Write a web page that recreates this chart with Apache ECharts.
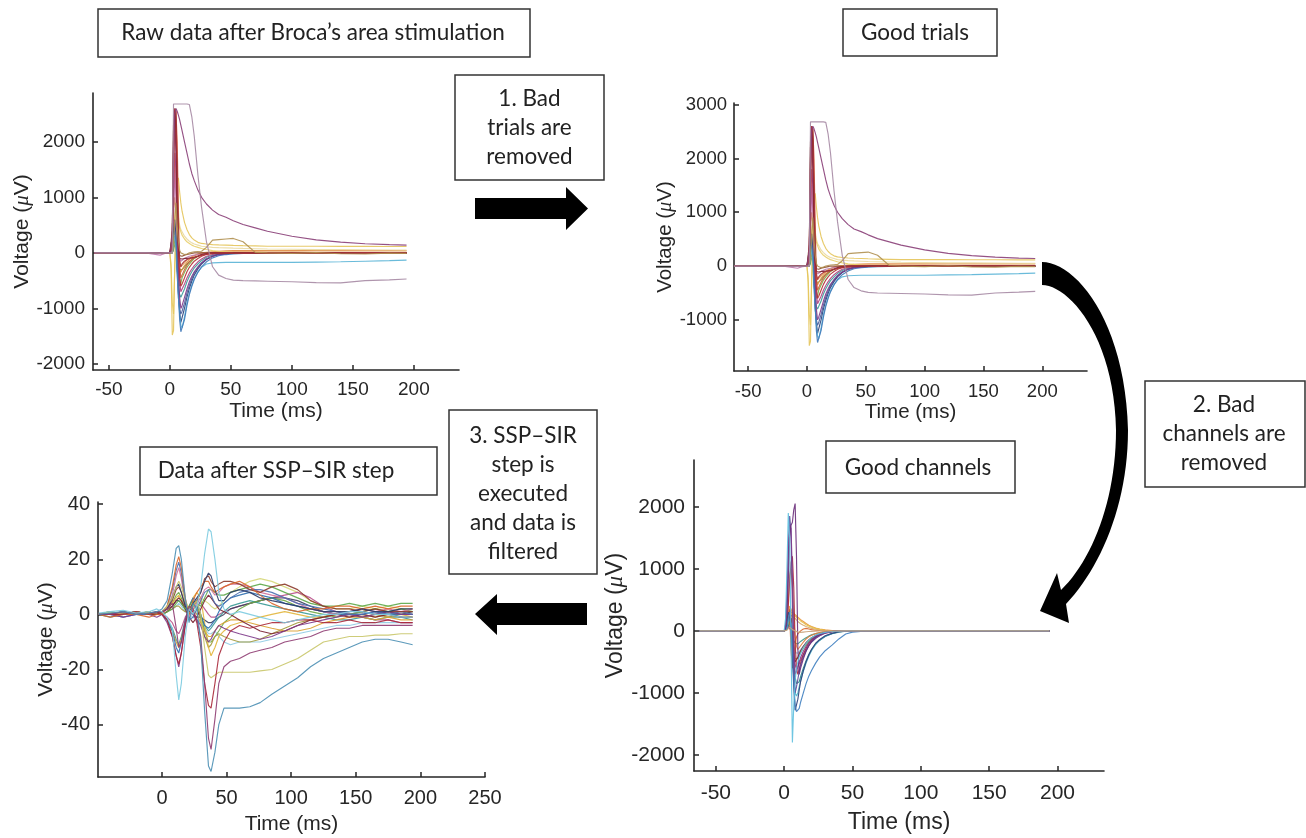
<!DOCTYPE html>
<html><head><meta charset="utf-8">
<script src="https://cdn.jsdelivr.net/npm/echarts@6/dist/echarts.min.js"></script>
<style>html,body{margin:0;padding:0;background:#fff}#c{width:1306px;height:838px}</style>
</head><body><div id="c"></div>
<script>
// ---------- time samples (ms) ----------
const timesRaw = [-62,-40,-20,-8,-4,0,1,2,3,4,5,6,7,8,9,10,12,14,16,18,20,23,26,30,35,40,46,52,60,70,80,100,120,140,160,180,194];
const timesSsp = [-49,-40,-30,-20,-10,-4,0,4,8,11,13,15,18,21,24,27,30,33,36,38,41,44,48,53,60,68,76,85,95,105,115,125,135,145,155,165,175,185,194];
const timesChan = [-62,-30,0,1,2,3,4,5,6,7,8,9,10,11,12,14,16,18,20,23,26,30,35,40,45,50,60,80,120,160,194];

// ---------- raw data (µV), also shown as "good trials" ----------
const raw_red = [0,0,0,0,0,0,50,400,2000,2600,2550,1500,300,-150,-250,-200,-150,-120,-100,-90,-80,-60,-40,-20,-5,0,5,0,-5,0,5,0,-5,0,5,0,0];
const raw_orangeRed = [0,0,0,0,0,0,0,100,1200,2300,2550,2000,800,-200,-450,-400,-300,-220,-160,-120,-90,-60,-40,-25,-10,-5,0,0,0,0,0,0,0,0,0,0,0];
const raw_blue = [0,0,0,0,0,0,0,50,300,400,200,-200,-700,-1200,-1420,-1450,-1200,-950,-750,-600,-480,-350,-250,-160,-90,-50,-30,-20,-10,-5,0,0,0,0,0,0,0];
const raw_cyan = [0,0,0,0,0,0,0,0,200,300,100,-300,-800,-1100,-1300,-1350,-1150,-900,-720,-580,-460,-340,-260,-200,-180,-175,-170,-170,-170,-170,-170,-170,-165,-160,-150,-140,-130];
const raw_green = [0,0,0,0,0,0,0,0,100,250,150,-100,-400,-600,-550,-450,-350,-260,-200,-150,-100,-60,-30,-10,0,0,0,0,0,0,0,0,0,0,0,0,0];
const raw_purple = [0,0,0,0,0,0,0,200,1800,2400,1800,600,-300,-800,-1000,-950,-800,-650,-520,-420,-340,-250,-180,-110,-60,-30,-15,-5,0,0,0,0,0,0,0,0,0];
const raw_darkRed = [0,0,0,0,0,0,0,300,2200,2550,2300,900,100,-100,-120,-110,-100,-100,-95,-90,-80,-60,-30,-10,0,0,0,0,0,0,0,0,0,0,0,0,0];
const raw_teal = [0,0,0,0,0,0,0,0,100,300,0,-300,-600,-750,-800,-780,-650,-520,-420,-340,-270,-200,-140,-80,-40,-20,-10,0,0,0,0,0,0,0,0,0,0];
const raw_orange = [0,0,0,0,0,0,0,100,800,1000,700,200,-100,-300,-350,-300,-230,-170,-120,-80,-50,-20,0,10,20,30,35,40,40,40,40,40,40,40,40,40,40];
const raw_blue2 = [0,0,0,0,0,0,0,100,600,400,0,-400,-800,-1000,-1100,-1050,-900,-720,-580,-460,-360,-260,-180,-110,-60,-30,-15,-5,0,0,0,0,0,0,0,0,0];
const raw_brown = [0,0,0,0,0,0,0,400,2300,2600,2400,1200,200,-50,-80,-60,-40,-30,-20,-10,0,0,0,0,0,0,0,0,0,0,0,0,0,0,0,0,0];
const raw_green2 = [0,0,0,0,0,0,0,0,50,150,100,-50,-200,-300,-320,-300,-250,-200,-160,-120,-90,-60,-35,-15,-5,0,0,0,0,0,0,0,0,0,0,0,0];
const raw_pink = [0,0,0,-40,-10,0,0,0,500,1500,1000,300,0,-100,-150,-130,-100,-80,-60,-50,-40,-30,-20,-10,0,0,0,0,0,0,0,0,0,0,0,0,0];
const raw_paleYellow = [0,0,0,0,0,0,0,50,300,700,850,800,650,500,420,380,300,250,210,180,160,140,120,110,100,95,90,85,80,75,70,65,60,58,55,52,50];
const raw_yellow = [0,0,0,0,0,0,-300,-1480,-1400,-200,600,1300,1350,1100,900,750,550,420,330,270,230,190,170,160,150,145,140,135,130,125,120,120,120,118,118,115,115];
const raw_yellow2 = [0,0,0,0,0,0,-200,-900,-1100,-300,300,600,550,450,380,320,250,200,170,140,120,100,80,60,40,30,20,10,0,0,0,0,0,0,0,0,0];
const raw_olive = [0,0,0,0,0,0,0,0,200,600,900,500,200,50,0,-20,-30,-20,0,10,20,25,30,100,230,240,250,260,200,10,0,-10,5,-15,-20,-5,-10];
const raw_red2 = [0,0,0,0,0,0,0,200,1900,2500,2200,1000,0,-400,-600,-560,-450,-340,-260,-200,-150,-100,-60,-30,-10,0,0,0,0,0,0,0,0,0,0,0,0];
const raw_navy = [0,0,0,0,0,0,0,80,400,600,300,-200,-700,-1050,-1250,-1220,-1000,-800,-640,-510,-400,-290,-200,-120,-60,-30,-15,-5,0,0,0,0,0,0,0,0,0];
const raw_orange2 = [0,0,0,0,0,0,0,150,1400,1800,1300,500,50,-150,-250,-230,-180,-130,-100,-70,-50,-30,-15,-5,0,10,15,20,20,20,15,15,10,10,10,10,10];
const raw_magenta = [0,0,0,0,0,0,0,100,900,1800,1500,400,-200,-500,-700,-680,-560,-450,-360,-290,-230,-160,-110,-60,-30,-10,0,0,0,0,0,0,0,0,0,0,0];
const raw_decay = [0,0,0,0,0,0,0,300,1500,2500,2600,2550,2480,2400,2300,2200,2000,1800,1600,1430,1300,1130,1000,880,770,690,640,580,510,450,390,300,235,195,165,148,140];
const raw_plateau = [0,0,0,-5,0,0,0,0,2680,2680,2680,2680,2680,2680,2680,2680,2680,2680,2670,2450,2100,1400,820,200,-250,-400,-460,-490,-500,-505,-510,-520,-535,-540,-500,-485,-470];

const rawTraces = [
  [raw_green2,'#5e9a40'],[raw_teal,'#3a9a9a'],[raw_green,'#7aa848'],[raw_blue2,'#4a5fa0'],
  [raw_orange,'#e08a40'],[raw_orange2,'#e39a50'],[raw_pink,'#c07aae'],[raw_paleYellow,'#ead9a0'],
  [raw_yellow2,'#e8cf6a'],[raw_yellow,'#e4c45a'],[raw_magenta,'#b0407e'],[raw_navy,'#2b3f7a'],
  [raw_cyan,'#5ab4d6'],[raw_blue,'#3f78b8'],[raw_purple,'#7e3a8a'],[raw_orangeRed,'#d0603a'],
  [raw_red2,'#b03030'],[raw_brown,'#8c4a2f'],[raw_darkRed,'#7a1e2a'],[raw_red,'#a8323e'],
  [raw_olive,'#b09050'],[raw_decay,'#8a3f78'],[raw_plateau,'#a689a4']
];
const goodTrialTraces = rawTraces;

// ---------- after SSP-SIR (µV) ----------
const ssp_1 = [0.5,1,1.5,0.5,1,2,1,-1,-5,-22,-31,-25,-8,2,0,3,10,22,31,30,20,8,2,0,1,0,-1,-2,-3,-2,-1,0,0,1,1,0,0,-1,-1];
const ssp_2 = [0,0.5,1,0,0.5,1,2,5,15,24,25,20,6,-3,4,2,-10,-35,-55,-57,-50,-40,-34,-34,-34,-33.5,-32,-29,-26,-23,-19,-16,-14,-12,-10,-9,-9,-10,-11];
const ssp_3 = [0,0,1,0,0.5,1,1,2,4,-5,-12,-10,-2,3,2,-2,-8,-25,-45,-49,-38,-25,-19,-17,-16,-14,-13,-12,-10,-9,-8,-6,-5,-5,-4,-4,-4,-4,-4];
const ssp_4 = [0,1,0,1,0,1,1,3,6,10,12,10,5,2,3,5,0,-12,-22,-23,-22,-21,-21,-21,-21,-21,-20.5,-20,-18,-16,-13,-10,-9,-8,-8,-7.5,-7.5,-7,-7];
const ssp_5 = [0,0,0,1,0,1,0,-2,-8,-15,-18,-14,-4,2,1,-3,-12,-25,-33,-34,-25,-15,-10,-6,-4,-5,-4,-3,-3,-2,-2,-3,-3,-2,-3,-3,-2,-3,-3];
const ssp_6 = [0,0,0,1,0,1,1,2,6,10,11,8,3,1,4,6,8,12,15,14,9,5,5,8,9,8,6,5,4,3,2,1,1,1,2,1,1,2,2];
const ssp_7 = [0,-1,0,0,-1,0,0,3,10,18,21,17,6,0,5,8,10,12,12,10,8,9,10,11,12,10,7,4,2,1,2,2,3,3,2,3,2,3,3];
const ssp_8 = [0,0,-1,0,0,-1,0,-3,-8,-15,-19,-14,-4,2,0,-2,-4,-8,-10,-9,-6,-4,-5,-6,-7,-8,-9,-8,-6,-4,-3,-2,-1,0,-1,0,1,0,0];
const ssp_9 = [0,1,0,0,1,0,1,2,4,7,8,6,2,0,2,3,0,-6,-10,-10,-8,-6,-3,-1,2,4,5,6,5,3,1,0,-1,0,1,2,1,2,1];
const ssp_10 = [0,0,1,0,0,1,0,1,3,5,6,5,2,1,3,5,6,5,4,3,2,3,5,8,10,12,13,12,10,8,5,3,2,2,3,2,3,2,2];
const ssp_11 = [0,0,-1,0,0,1,0,-2,-6,-12,-14,-10,-3,3,6,5,0,-4,-5,-4,-2,1,4,6,7,8,7,6,4,3,2,1,0,0,0,1,0,0,0];
const ssp_12 = [0,0,0,1,0,0,1,2,5,9,10,8,3,1,3,5,8,13,14,12,10,11,12,12,11,9,8,10,11,9,5,3,2,2,1,2,1,1,1];
const ssp_13 = [0,-1,0,0,0,0,0,-2,-5,-9,-11,-8,-2,2,4,2,-1,-4,-6,-5,-3,-1,1,3,4,5,4,3,2,1,0,-1,-2,-2,-1,-2,-1,-1,-2];
const ssp_14 = [0,0,1,0,1,0,1,2,4,6,7,5,2,3,6,8,6,-3,-12,-15,-12,-8,-6,-4,-3,-2,-1,0,1,0,-1,-1,0,0,0,-1,0,0,-1];
const ssp_15 = [0,0,0,0,0,0,0,-1,-3,-6,-7,-5,-1,1,3,5,4,2,0,-1,-1,0,1,2,3,4,5,6,7,8,6,3,1,0,-1,-2,-2,-3,-3];
const ssp_16 = [0,0,0,0,0,1,0,1,2,3,4,3,1,0,-1,-2,-3,-5,-7,-7,-6,-8,-10,-11,-10,-10,-10,-9,-8,-7,-6,-5,-4,-4,-3,-3,-3,-3,-3];
const ssp_17 = [0,0,1,0,1,0,1,2,3,5,5,4,2,1,0,-1,-1,-2,-3,-3,-2,-1,0,2,3,4,5,6,6,5,3,1,0,0,1,0,1,0,1];
const ssp_18 = [0,0,0,0,0,0,0,1,3,5,6,5,2,-1,-3,-1,2,5,7,6,4,2,1,0,-2,-4,-6,-7,-6,-4,-2,-1,0,-1,0,-1,0,-1,-1];
const ssp_19 = [0,0,0,0,0,0,0,2,7,14,17,13,4,-1,2,4,6,9,10,9,7,8,10,11,11,10,8,7,6,4,2,1,0,1,2,1,2,1,2];
const ssp_20 = [0,1,0,0,0,1,0,1,2,3,3,2,1,2,4,3,-2,-8,-12,-11,-8,-7,-8,-9,-10,-10,-9,-7,-5,-3,-2,-1,0,0,-1,0,-1,0,0];
const ssp_21 = [0,0,1,0,0,0,1,3,9,16,19,15,5,-2,-1,2,5,8,9,7,4,3,4,6,8,9,9,8,6,4,3,2,1,0,0,1,0,1,0];
const ssp_22 = [0,0,0,0,1,0,0,-2,-6,-10,-12,-9,-3,1,2,0,-3,-6,-8,-8,-6,-4,-3,-2,-2,-3,-4,-5,-6,-6,-5,-3,-2,-1,-1,-2,-1,-2,-2];
const ssp_23 = [0,0,0,1,0,0,0,1,2,4,5,4,2,3,5,4,3,6,9,9,8,7,7,8,9,10,11,10,8,6,4,3,3,4,3,4,3,4,4];

const sspTraces = [
  [ssp_16,'#8fcbe3'],[ssp_10,'#d6d77a'],[ssp_15,'#b8508a'],[ssp_17,'#3b3f5e'],[ssp_13,'#3a9a96'],
  [ssp_9,'#6ea843'],[ssp_20,'#a39a3c'],[ssp_22,'#d9a030'],[ssp_14,'#e2b63c'],[ssp_18,'#7a2030'],[ssp_11,'#2f6fb0'],
  [ssp_23,'#5ea84a'],[ssp_8,'#7e3a8a'],[ssp_19,'#d0709a'],[ssp_21,'#4a6fb0'],[ssp_12,'#8c3a2b'],[ssp_7,'#d9662a'],[ssp_6,'#2b3a67'],
  [ssp_4,'#c9c76a'],[ssp_5,'#a8283a'],[ssp_3,'#8e3c72'],[ssp_2,'#4b8fb4'],[ssp_1,'#7ccbe0']
];

// ---------- good channels (µV) ----------
const ch_1 = [0,0,0,200,1000,1900,1500,-200,-1800,-1200,-800,-600,-500,-420,-360,-270,-200,-150,-110,-70,-45,-25,-10,-5,0,0,0,0,0,0,0];
const ch_2 = [0,0,0,50,300,800,1500,1700,1750,1950,2050,1200,-300,-700,-600,-450,-330,-240,-170,-100,-60,-30,-10,0,0,0,0,0,0,0,0];
const ch_3 = [0,0,0,0,50,200,300,100,-300,-800,-1200,-1300,-1330,-1250,-1150,-1000,-850,-730,-640,-520,-420,-320,-230,-130,-50,-20,0,0,0,0,0];
const ch_4 = [0,0,0,0,100,300,250,0,-400,-900,-1280,-1250,-1100,-950,-820,-640,-500,-390,-300,-200,-140,-80,-40,-15,-5,0,0,0,0,0,0];
const ch_5 = [0,0,0,0,100,400,800,1100,1200,700,-200,-600,-700,-620,-520,-380,-280,-200,-150,-90,-55,-25,-10,0,0,0,0,0,0,0,0];
const ch_6 = [0,0,0,0,50,150,250,-300,-600,-400,-200,-100,-50,-20,0,30,40,30,20,10,5,0,0,0,0,0,0,0,0,0,0];
const ch_7 = [0,0,0,20,80,200,300,280,260,250,240,220,200,180,160,130,100,80,60,40,25,10,5,0,0,0,0,0,0,0,0];
const ch_8 = [0,0,0,0,30,100,150,100,-100,-300,-450,-480,-450,-400,-350,-280,-220,-170,-130,-90,-60,-30,-10,-5,0,0,0,0,0,0,0];
const ch_9 = [0,0,0,0,40,120,150,80,-50,-150,-200,-220,-210,-190,-170,-140,-110,-85,-65,-45,-30,-15,-5,0,0,0,0,0,0,0,0];
const ch_10 = [0,0,0,0,20,60,80,50,-100,-250,-350,-380,-360,-330,-300,-250,-200,-160,-120,-80,-50,-25,-10,-3,0,0,0,0,0,0,0];
const ch_11 = [0,0,0,100,600,1400,1700,1650,900,-200,-700,-650,-580,-500,-430,-330,-250,-190,-140,-90,-55,-25,-8,0,0,0,0,0,0,0,0];
const ch_12 = [0,0,0,10,60,150,200,220,230,230,200,170,150,130,115,90,70,55,40,25,15,5,0,0,0,0,0,0,0,0,0];
const ch_13 = [0,0,0,0,30,80,100,0,-200,-400,-550,-600,-580,-530,-470,-380,-300,-230,-180,-120,-80,-40,-15,-5,0,0,0,0,0,0,0];
const ch_14 = [0,0,0,0,10,30,60,40,20,10,0,-10,-20,-25,-25,-20,-15,-10,-8,-5,-3,-1,0,0,0,0,0,0,0,0,0];
const ch_15 = [0,0,0,0,30,100,120,50,-200,-500,-750,-850,-880,-820,-740,-600,-480,-380,-300,-210,-150,-90,-45,-20,-5,0,0,0,0,0,0];
const ch_16 = [0,0,0,0,80,250,400,350,300,280,260,240,220,200,180,150,120,90,70,45,30,15,5,0,0,0,0,0,0,0,0];
const ch_17 = [0,0,0,50,400,1200,1850,1600,400,-600,-1000,-900,-780,-650,-550,-420,-320,-240,-180,-120,-75,-35,-12,0,0,0,0,0,0,0,0];
const ch_18 = [0,0,0,30,150,500,900,1000,700,200,-100,-250,-300,-280,-240,-180,-130,-95,-70,-45,-28,-12,-4,0,0,0,0,0,0,0,0];
const ch_19 = [0,0,0,0,40,150,200,100,-300,-700,-1000,-1050,-1000,-900,-800,-650,-520,-410,-320,-220,-150,-85,-40,-15,-5,0,0,0,0,0,0];
const ch_20 = [0,0,0,0,60,200,350,300,-100,-400,-500,-470,-420,-370,-320,-250,-190,-145,-110,-75,-48,-22,-8,0,0,0,0,0,0,0,0];

const chanTraces = [
  [ch_9,'#3a9a8a'],[ch_10,'#8fd0e6'],[ch_8,'#77ac30'],[ch_13,'#b0407e'],[ch_20,'#7a1e2a'],[ch_15,'#2e7f86'],
  [ch_6,'#d9662a'],[ch_12,'#d7a86a'],[ch_16,'#e8953a'],[ch_7,'#e6c04a'],[ch_18,'#e07b39'],[ch_5,'#a8283a'],
  [ch_19,'#4db0c8'],[ch_4,'#2b3f7a'],[ch_3,'#3f7fc0'],[ch_17,'#5a4a9a'],[ch_11,'#7e3a8a'],[ch_2,'#6a2d7a'],[ch_1,'#5fc0df'],[ch_14,'#c8a27a']
];

// ---------- axis ticks ----------
const ticksTimeA = [-50,0,50,100,150,200];
const ticksTimeB = [0,50,100,150,200,250];
const ticksVoltRaw = [-2000,-1000,0,1000,2000];
const ticksVoltGood = [-1000,0,1000,2000,3000];
const ticksVoltSsp = [-40,-20,0,20,40];

const AX = '#262626';
const AXFONT = 'Liberation Sans, Arial, Helvetica, sans-serif';
const BOXFONT = 'Lato, "Open Sans", sans-serif';

const panels = [
  {grid:{left:93,top:93,width:366,height:277}, x:[-63,237], y:[-2108,2878], xt:ticksTimeA, yt:ticksVoltRaw, fs:19, nfs:21, xm:10, ym:8, xg:31, yg:55, times:timesRaw, traces:rawTraces},
  {grid:{left:734,top:103,width:353,height:268}, x:[-62,238], y:[-1950,3030], xt:ticksTimeA, yt:ticksVoltGood, fs:18.5, nfs:20.5, xm:11, ym:7, xg:31, yg:52, times:timesRaw, traces:goodTrialTraces},
  {grid:{left:98,top:502,width:387,height:275}, x:[-49.5,250], y:[-59,40.8], xt:ticksTimeB, yt:ticksVoltSsp, fs:20, nfs:21, xm:11, ym:8, xg:37, yg:39, times:timesSsp, traces:sspTraces},
  {grid:{left:694,top:460,width:410,height:311}, x:[-66,234], y:[-2258,2753], xt:ticksTimeA, yt:ticksVoltRaw, fs:21, nfs:23, xm:12, ym:9, xg:40, yg:58, times:timesChan, traces:chanTraces}
];

const plain = v => String(v);
const grids=[], xAxes=[], yAxes=[], series=[];
panels.forEach((p,i)=>{
  grids.push(Object.assign({containLabel:false}, p.grid));
  const line = {onZero:false, lineStyle:{color:AX, width:1.6}};
  xAxes.push({type:'value', gridIndex:i, min:p.x[0], max:p.x[1],
    axisLine:line, splitLine:{show:false},
    axisTick:{inside:true, length:5, customValues:p.xt, lineStyle:{color:AX,width:1.5}},
    axisLabel:{customValues:p.xt, formatter:plain, color:AX, fontSize:p.fs, fontFamily:AXFONT, margin:p.xm},
    name:'Time (ms)', nameLocation:'middle', nameGap:p.xg,
    nameTextStyle:{color:AX, fontSize:p.nfs, fontFamily:AXFONT}});
  yAxes.push({type:'value', gridIndex:i, min:p.y[0], max:p.y[1],
    axisLine:line, splitLine:{show:false},
    axisTick:{inside:true, length:5, customValues:p.yt, lineStyle:{color:AX,width:1.5}},
    axisLabel:{customValues:p.yt, formatter:plain, color:AX, fontSize:p.fs, fontFamily:AXFONT, margin:p.ym},
    name:'Voltage ({mu|μ}V)', nameLocation:'middle', nameGap:p.yg, nameRotate:90,
    nameTextStyle:{color:AX, fontSize:p.nfs, fontFamily:AXFONT,
      rich:{mu:{color:AX, fontSize:p.nfs, fontFamily:'Liberation Serif, serif', fontStyle:'italic'}}}});
  p.traces.forEach(([vals,color])=>{
    series.push({type:'line', xAxisIndex:i, yAxisIndex:i, symbol:'none', silent:true,
      data:p.times.map((t,k)=>[t, vals[k]]),
      lineStyle:{width:1.15, color:color, opacity:0.9}});
  });
});

// ---------- annotation boxes & arrows ----------
function box(x,y,w,h,text,cx,cy,fs){
  return [
    {type:'rect', shape:{x:x,y:y,width:w,height:h}, style:{fill:'#fff', stroke:'#333', lineWidth:1.5}, z:10},
    {type:'text', x:cx, y:cy, style:{text:text, fill:'#222', fontSize:fs||22.5, fontFamily:BOXFONT, align:'center', verticalAlign:'middle', lineHeight:29}, z:11}
  ];
}
function bez(p0,p1,p2,p3,n){
  const pts=[];
  for(let k=0;k<=n;k++){const t=k/n,u=1-t;
    pts.push([u*u*u*p0[0]+3*u*u*t*p1[0]+3*u*t*t*p2[0]+t*t*t*p3[0], u*u*u*p0[1]+3*u*u*t*p1[1]+3*u*t*t*p2[1]+t*t*t*p3[1]]);}
  return pts;
}
const curved = [].concat(
  bez([1042,262],[1075,262],[1125,320],[1128,430],24),
  bez([1128,430],[1128,505],[1100,568],[1066,604],24),
  [[1069,623],[1040,611],[1057,573]],
  bez([1061,590],[1092,560],[1116,500],[1116,430],24),
  bez([1116,430],[1114,335],[1068,285],[1042,285],24)
);

const graphic = [].concat(
  box(98,9,432,48,'Raw data after Broca\u2019s area stimulation',313,33),
  box(455,75,149,105,'1. Bad\ntrials are\nremoved',529.5,128),
  box(843,9,154,47,'Good trials',915,33),
  box(1145,381,160,106,'2. Bad\nchannels are\nremoved',1224,434),
  box(826,441,189,52,'Good channels',918,468),
  box(140,447,297,48,'Data after SSP\u2013SIR step',276,471),
  box(449,410,148,164,'3. SSP\u2013SIR\nstep is\nexecuted\nand data is\nfiltered',523,494),
  [
    {type:'polygon', shape:{points:[[475,198],[566,198],[566,187],[588,208.5],[566,230],[566,219],[475,219]]}, style:{fill:'#000'}, z:10},
    {type:'polygon', shape:{points:[[587,603],[497,603],[497,594],[475,614],[497,635],[497,625],[587,625]]}, style:{fill:'#000'}, z:10},
    {type:'polygon', shape:{points:curved}, style:{fill:'#000'}, z:10}
  ]
);

const chart = echarts.init(document.getElementById('c'), null, {renderer:'canvas'});
chart.setOption({
  animation:false, backgroundColor:'#fff',
  grid:grids, xAxis:xAxes, yAxis:yAxes, series:series, graphic:graphic
});
</script></body></html>
